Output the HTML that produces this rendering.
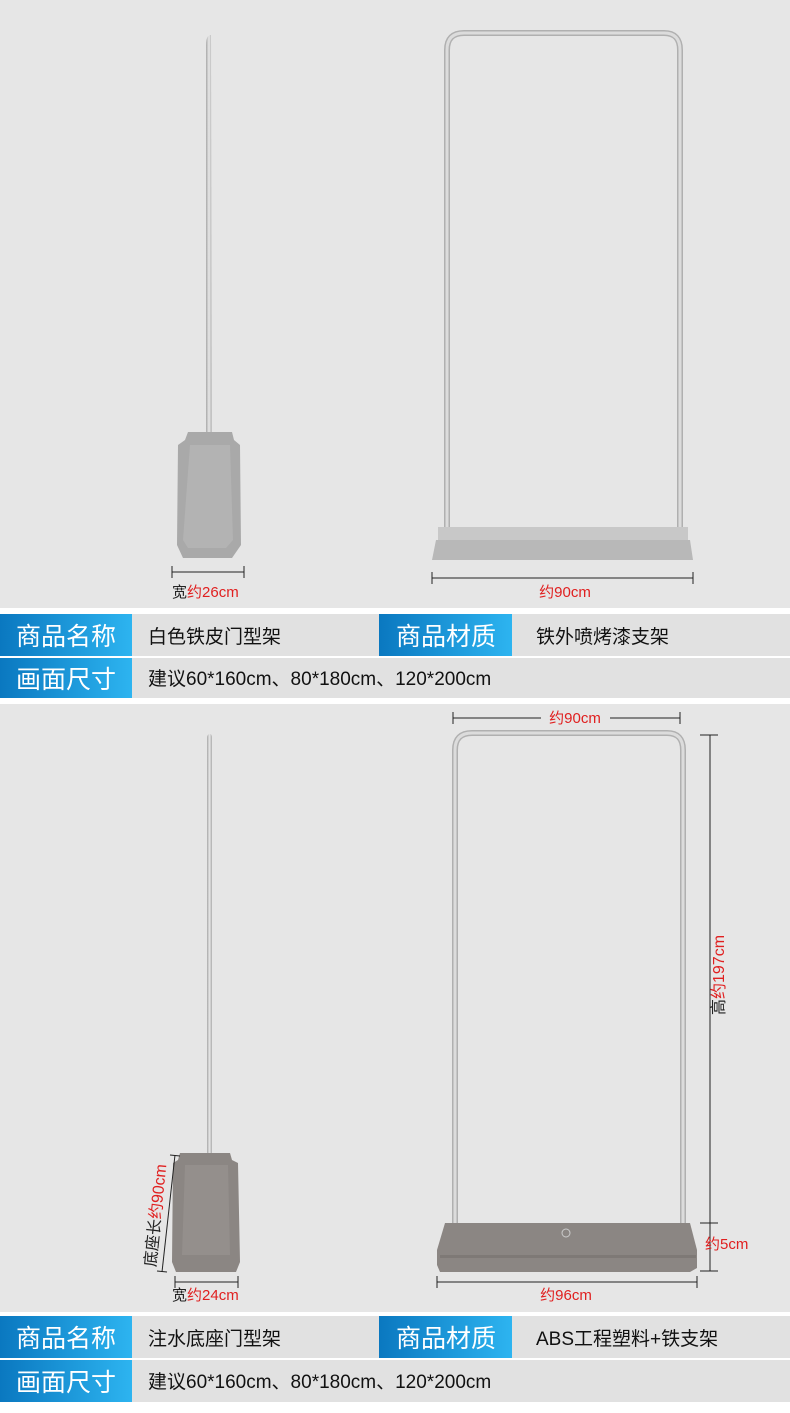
<!DOCTYPE html>
<html><head><meta charset="utf-8"><style>
body{margin:0;width:790px;height:1408px;overflow:hidden;background:#fff;font-family:"Liberation Sans","Noto Sans CJK SC",sans-serif}
</style></head><body>
<svg width="790" height="1408" viewBox="0 0 790 1408" xmlns="http://www.w3.org/2000/svg" font-family="Liberation Sans, Noto Sans CJK SC, sans-serif">
<defs>
<linearGradient id="bl" x1="0" x2="1"><stop offset="0" stop-color="#0a78c0"/><stop offset="1" stop-color="#2db4f0"/></linearGradient>
<linearGradient id="tube" x1="0" x2="1"><stop offset="0" stop-color="#a8a8a8"/><stop offset=".5" stop-color="#e8e8e8"/><stop offset="1" stop-color="#acacac"/></linearGradient>
</defs>
<rect width="790" height="608" fill="#e6e6e6"/>
<rect y="704" width="790" height="608" fill="#e6e6e6"/>
<g>
<rect y="614" width="790" height="42" fill="#e1e1e1"/>
<rect y="658" width="790" height="40" fill="#e1e1e1"/>
<rect y="614" width="132" height="42" fill="url(#bl)"/>
<rect x="379" y="614" width="133" height="42" fill="url(#bl)"/>
<rect y="658" width="132" height="40" fill="url(#bl)"/>
<text x="66" y="645" font-size="25" fill="#fff" text-anchor="middle">商品名称</text>
<text x="446" y="645" font-size="25" fill="#fff" text-anchor="middle">商品材质</text>
<text x="66" y="688" font-size="25" fill="#fff" text-anchor="middle">画面尺寸</text>
<text x="148" y="643" font-size="19" fill="#111">白色铁皮门型架</text>
<text x="536" y="643" font-size="19" fill="#111">铁外喷烤漆支架</text>
<text x="148" y="685" font-size="19" fill="#111">建议60*160cm、80*180cm、120*200cm</text>
</g>
<g>
<rect y="1316" width="790" height="42" fill="#e1e1e1"/>
<rect y="1360" width="790" height="42" fill="#e1e1e1"/>
<rect y="1316" width="132" height="42" fill="url(#bl)"/>
<rect x="379" y="1316" width="133" height="42" fill="url(#bl)"/>
<rect y="1360" width="132" height="42" fill="url(#bl)"/>
<text x="66" y="1347" font-size="25" fill="#fff" text-anchor="middle">商品名称</text>
<text x="446" y="1347" font-size="25" fill="#fff" text-anchor="middle">商品材质</text>
<text x="66" y="1391" font-size="25" fill="#fff" text-anchor="middle">画面尺寸</text>
<text x="148" y="1345" font-size="19" fill="#111">注水底座门型架</text>
<text x="536" y="1345" font-size="19" fill="#111">ABS工程塑料+铁支架</text>
<text x="148" y="1388" font-size="19" fill="#111">建议60*160cm、80*180cm、120*200cm</text>
</g>
<!-- top left stand -->
<path d="M206 545 L206 45 Q206 35 211 35 L212 545 Z" fill="url(#tube)"/>
<path d="M188 432 L232 432 L234 440 L240 445 L241 545 L232 558 L183 558 L177 545 L178 445 L185 440 Z" fill="#a9a9a9"/>
<path d="M190 445 L230 445 L233 540 L226 548 L188 548 L183 540 Z" fill="#b3b3b3"/>
<g stroke="#222" stroke-width="1"><line x1="172" y1="572" x2="244" y2="572"/><line x1="172" y1="566" x2="172" y2="578"/><line x1="244" y1="566" x2="244" y2="578"/></g>
<text x="172" y="597" font-size="15" fill="#222">宽<tspan fill="#e02020">约26cm</tspan></text>
<!-- top right frame -->
<path d="M447 530 L447 50 Q447 33 464 33 L664 33 Q680 33 680 50 L680 530" fill="none" stroke="#b0b0b0" stroke-width="6"/>
<path d="M447 530 L447 50 Q447 33 464 33 L664 33 Q680 33 680 50 L680 530" fill="none" stroke="#dcdcdc" stroke-width="3"/>
<rect x="438" y="527" width="250" height="14" fill="#c8c8c8"/>
<path d="M436 540 L690 540 L693 560 L432 560 Z" fill="#b8b8b8"/>
<g stroke="#222" stroke-width="1"><line x1="432" y1="578" x2="693" y2="578"/><line x1="432" y1="572" x2="432" y2="584"/><line x1="693" y1="572" x2="693" y2="584"/></g>
<text x="565" y="597" font-size="15" fill="#e02020" text-anchor="middle">约90cm</text>
<!-- bottom left stand -->
<path d="M207 1250 L207 738 Q207 734 210 734 Q212 734 212 738 L212 1250 Z" fill="url(#tube)"/>
<path d="M180 1153 L230 1153 L232 1160 L238 1163 L240 1262 L236 1272 L176 1272 L172 1262 L173 1163 L178 1160 Z" fill="#8b8683"/>
<path d="M185 1165 L228 1165 L230 1255 L182 1255 Z" fill="#948f8c"/>
<g stroke="#222" stroke-width="1"><line x1="175" y1="1155" x2="162" y2="1272"/><line x1="170" y1="1155" x2="180" y2="1156"/><line x1="157" y1="1271" x2="167" y2="1272"/>
<line x1="175" y1="1282" x2="238" y2="1282"/><line x1="175" y1="1276" x2="175" y2="1288"/><line x1="238" y1="1276" x2="238" y2="1288"/></g>
<text transform="translate(161 1216) rotate(-84)" font-size="16" fill="#222" text-anchor="middle">底座长<tspan fill="#e02020">约90cm</tspan></text>
<text x="172" y="1300" font-size="15" fill="#222">宽<tspan fill="#e02020">约24cm</tspan></text>
<!-- bottom right frame -->
<path d="M455 1230 L455 750 Q455 733 472 733 L667 733 Q683 733 683 750 L683 1230" fill="none" stroke="#b0b0b0" stroke-width="6"/>
<path d="M455 1230 L455 750 Q455 733 472 733 L667 733 Q683 733 683 750 L683 1230" fill="none" stroke="#dcdcdc" stroke-width="3"/>
<path d="M445 1223 L690 1223 L697 1250 L697 1268 L690 1272 L440 1272 L437 1265 L437 1250 Z" fill="#8b8683"/>
<rect x="440" y="1255" width="256" height="3" fill="#7e7976"/>
<circle cx="566" cy="1233" r="4" fill="none" stroke="#ccc" stroke-width="1"/>
<g stroke="#222" stroke-width="1">
<line x1="453" y1="718" x2="541" y2="718"/><line x1="610" y1="718" x2="680" y2="718"/><line x1="453" y1="712" x2="453" y2="724"/><line x1="680" y1="712" x2="680" y2="724"/>
<line x1="710" y1="735" x2="710" y2="1271"/><line x1="700" y1="735" x2="718" y2="735"/><line x1="700" y1="1223" x2="718" y2="1223"/><line x1="700" y1="1271" x2="718" y2="1271"/>
<line x1="437" y1="1282" x2="697" y2="1282"/><line x1="437" y1="1276" x2="437" y2="1288"/><line x1="697" y1="1276" x2="697" y2="1288"/></g>
<text x="575" y="723" font-size="15" fill="#e02020" text-anchor="middle">约90cm</text>
<text transform="translate(724 975) rotate(-90)" font-size="16" fill="#222" text-anchor="middle">高<tspan fill="#e02020">约197cm</tspan></text>
<text x="705" y="1249" font-size="15" fill="#e02020">约5cm</text>
<text x="566" y="1300" font-size="15" fill="#e02020" text-anchor="middle">约96cm</text>
</svg>
</body></html>
